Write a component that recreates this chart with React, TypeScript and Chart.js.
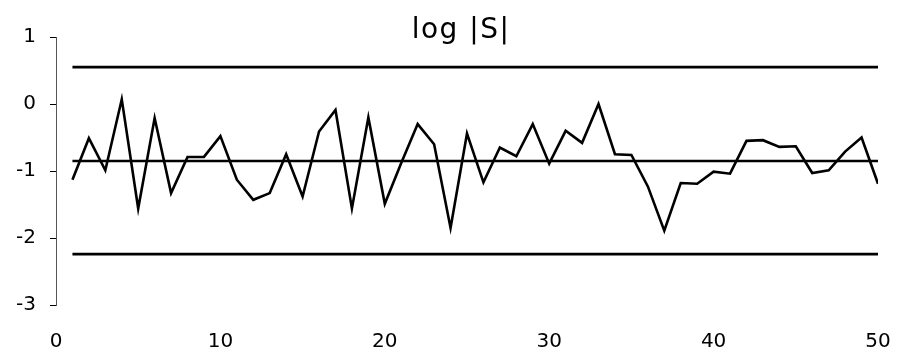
import React, { useEffect, useRef } from "react";
import { Chart, registerables } from "chart.js";

Chart.register(...registerables);

const xValues: number[] = Array.from({ length: 50 }, (_, i) => i + 1);
const logS: number[] = [
  -1.13, -0.51, -0.99, 0.07, -1.56, -0.21, -1.33, -0.79, -0.79, -0.48,
  -1.13, -1.43, -1.33, -0.75, -1.38, -0.41, -0.09, -1.56, -0.2, -1.49,
  -0.88, -0.3, -0.6, -1.85, -0.44, -1.17, -0.65, -0.78, -0.3, -0.89,
  -0.4, -0.58, 0.0, -0.75, -0.76, -1.23, -1.89, -1.18, -1.19, -1.01,
  -1.04, -0.55, -0.54, -0.64, -0.63, -1.03, -0.99, -0.71, -0.5, -1.19,
];
const refLevels: number[] = [0.55, -0.85, -2.24];
const refRange: number[] = [1, 50];
const titleText = "log |S|";

const titlePlugin = {
  id: "insideTitle",
  afterDraw(chart: any) {
    const ctx = chart.ctx;
    ctx.save();
    ctx.font = "28px 'DejaVu Sans', sans-serif";
    ctx.fillStyle = "#000";
    ctx.textAlign = "center";
    ctx.textBaseline = "alphabetic";
    try {
      (ctx as any).letterSpacing = "1.5px";
    } catch (e) {}
    ctx.fillText(titleText, 461, 38);
    ctx.restore();
  },
};

export default function App() {
  const ref = useRef<HTMLCanvasElement | null>(null);
  useEffect(() => {
    if (!ref.current) return;
    const font = { family: "'DejaVu Sans', sans-serif", size: 20 };
    const datasets: any[] = [
      {
        data: xValues.map((x, i) => ({ x, y: logS[i] })),
        borderColor: "#000",
        borderWidth: 2.6,
        pointRadius: 0,
        tension: 0,
        fill: false,
      },
      ...refLevels.map((lv) => ({
        data: refRange.map((x) => ({ x, y: lv })),
        borderColor: "#000",
        borderWidth: 2.6,
        pointRadius: 0,
        fill: false,
      })),
    ];
    const chart = new Chart(ref.current, {
      type: "line",
      data: { datasets },
      plugins: [titlePlugin],
      options: {
        animation: false,
        responsive: true,
        maintainAspectRatio: false,
        layout: { padding: { left: 0, right: 19, top: 37, bottom: 0 } },
        plugins: { legend: { display: false }, tooltip: { enabled: false }, title: { display: false } },
        scales: {
          x: {
            type: "linear",
            min: 0,
            max: 50,
            ticks: { stepSize: 10, color: "#000", font, padding: 0, maxRotation: 0 },
            grid: {
              display: true,
              drawOnChartArea: false,
              drawTicks: true,
              tickLength: 25,
              color: "rgba(0,0,0,0)",
            },
            border: { display: false },
            afterFit: (s: any) => {
              s.height = 47;
            },
          },
          y: {
            min: -3,
            max: 1,
            ticks: { stepSize: 1, color: "#000", font, padding: 14 },
            grid: { display: true, drawOnChartArea: false, drawTicks: true, tickLength: 6, color: "#000" },
            border: { display: true, color: "#555", width: 1, dash: [1, 3] },
            afterFit: (s: any) => {
              s.width = 56;
            },
          },
        },
      } as any,
    });
    return () => chart.destroy();
  }, []);
  return (
    <div style={{ position: "absolute", left: 0, top: 0, width: 897, height: 352, background: "#fff" }}>
      <canvas ref={ref} />
    </div>
  );
}
